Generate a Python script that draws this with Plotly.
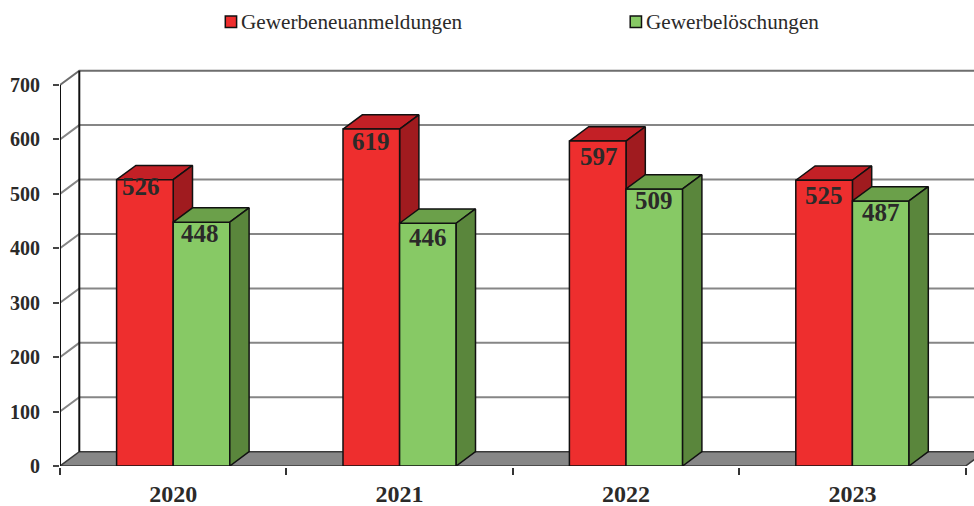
import plotly.graph_objects as go

years = ["2020", "2021", "2022", "2023"]
anmeldungen = [526, 619, 597, 525]
loeschungen = [448, 446, 509, 487]
y_ticks = [0, 100, 200, 300, 400, 500, 600, 700]
name_a = "Gewerbeneuanmeldungen"
name_b = "Gewerbelöschungen"

# small nudges of the value labels in px (x, y)
shift_a = [(-4, -7), (0, -12), (1, -15), (0, -15)]
shift_b = [(-2, -11), (0, -14), (0, -12), (0, -12)]

W, H = 974, 506
LEFT, TOP, BOTTOM = 60, 60, 466
PX_X = 226.4
PX_Y = 0.5443
DX = 19.3 / PX_X
DY = 14.3 / PX_Y
BW = 0.25
x_max = -0.5 + (W - LEFT) / PX_X
y_max = (BOTTOM - TOP) / PX_Y
INK = "#2b2a29"
F_SERIF = "Liberation Serif"
n = len(years)

fig = go.Figure()


def poly(xs, ys, fill, lc="#111111", lw=1.5, z=1):
    fig.add_trace(go.Scatter(x=xs, y=ys, mode="lines", fill="toself", fillcolor=fill,
                             line=dict(color=lc, width=lw), showlegend=False,
                             hoverinfo="skip", cliponaxis=False, zorder=z))


def line(xs, ys, color, lw, z=0):
    fig.add_trace(go.Scatter(x=xs, y=ys, mode="lines", line=dict(color=color, width=lw),
                             showlegend=False, hoverinfo="skip", cliponaxis=False, zorder=z))


x0 = -0.5
x1 = n - 0.5
# gridlines on side wall and back wall
for t in y_ticks[1:]:
    line([x0, x0 + DX, x1 + DX], [t, t + DY, t + DY],
         "#6e6e6e" if t == 700 else "#868686", 2)
# floor
poly([x0, x0 + DX, x1 + DX, x1, x0], [0, DY, DY, 0, 0], "#878787", lc="#3a3a3a", lw=1.5, z=0)
# wall edges and axis
line([x0 + DX, x0 + DX], [DY, 700 + DY], "#111111", 2)
line([x0, x0], [0, 700], "#111111", 2)


def faces(cx, v, top, side, z):
    l, r = cx - BW, cx
    poly([l, l + DX, r + DX, r, l], [v, v + DY, v + DY, v, v], top, z=z)
    poly([r, r + DX, r + DX, r, r], [v, v + DY, DY, 0, v], side, z=z)


for i in range(n):
    faces(i, anmeldungen[i], "#c32026", "#a01b1f", 1)
    faces(i + BW, loeschungen[i], "#6ba04a", "#5a863c", 3)

COLOR_A, COLOR_B = "#ee2e2e", "#87c965"
fig.add_trace(go.Bar(x=[i - BW / 2 for i in range(n)], y=anmeldungen, width=BW, name=name_a,
                     marker=dict(color=COLOR_A, line=dict(color="#111111", width=1.5)),
                     showlegend=False, hoverinfo="skip", zorder=2))
fig.add_trace(go.Bar(x=[i + BW / 2 for i in range(n)], y=loeschungen, width=BW, name=name_b,
                     marker=dict(color=COLOR_B, line=dict(color="#111111", width=1.5)),
                     showlegend=False, hoverinfo="skip", zorder=3))

for i in range(n):
    for cx, v, s in ((i - BW / 2, anmeldungen[i], shift_a[i]), (i + BW / 2, loeschungen[i], shift_b[i])):
        fig.add_annotation(x=cx, y=v, text=f"<b>{v}</b>", showarrow=False, xref="x", yref="y",
                           xanchor="center", yanchor="middle", xshift=s[0], yshift=s[1],
                           font=dict(family=F_SERIF, size=25, color=INK))


def px_x(p):
    return (p - LEFT) / (W - LEFT)


def px_y(p):
    return (BOTTOM - p) / (BOTTOM - TOP)


# legend: square key and label
for left, text_x, color, name in ((225.3, 241, COLOR_A, name_a), (630.2, 646, COLOR_B, name_b)):
    fig.add_shape(type="rect", xref="paper", yref="paper", x0=px_x(left), x1=px_x(left + 11.3),
                  y0=px_y(16), y1=px_y(27.5), fillcolor=color, line=dict(color="#111111", width=1.5))
    fig.add_annotation(x=px_x(text_x), y=px_y(22), xref="paper", yref="paper", text=name, showarrow=False,
                       xanchor="left", yanchor="middle", xshift=-2,
                       font=dict(family=F_SERIF, size=21.2, color=INK))

fig.update_layout(
    width=W, height=H, barmode="overlay", paper_bgcolor="white", plot_bgcolor="white",
    margin=dict(l=LEFT, r=0, t=TOP, b=H - BOTTOM, autoexpand=False),
    showlegend=False,
    xaxis=dict(range=[x0, x_max], tickmode="array", tickvals=list(range(n)), ticktext=years,
               ticks="", showgrid=False, zeroline=False, showline=True, linecolor="#111111", linewidth=2,
               ticklabelstandoff=5, tickfont=dict(family=F_SERIF, size=24, color=INK, weight="bold"),
               minor=dict(tickmode="array", tickvals=[i - 0.5 for i in range(n + 1)], ticks="outside",
                          ticklen=7, tickwidth=1.5, tickcolor="#333333", showgrid=False)),
    yaxis=dict(range=[0, y_max], tickmode="array", tickvals=y_ticks, ticks="outside", ticklen=6, tickwidth=1.5,
               tickcolor="#444444", showgrid=False, zeroline=False, showline=False, ticklabelstandoff=9,
               tickfont=dict(family=F_SERIF, size=20, color=INK, weight="bold")),
)
fig.write_html("out.html", config={"displayModeBar": False},
               post_script="document.body.style.margin='0';document.body.style.overflow='hidden';")
